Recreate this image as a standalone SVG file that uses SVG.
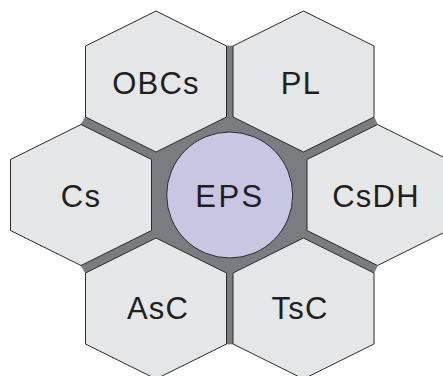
<svg xmlns="http://www.w3.org/2000/svg" width="443" height="376" viewBox="0 0 443 376">
  <style>
    .hex { fill: #e5e6e7; stroke: #2b2b2b; stroke-width: 1; }
    .lbl { font-family: "Liberation Sans", Arial, sans-serif; font-size: 31px; fill: #1f1f1f; text-anchor: middle; letter-spacing: 1.2px; }
    .core { fill: #7b7c80; stroke: #6a6b6e; stroke-width: 0.6; }
  </style>
  <defs>
    <polygon id="hexShape" points="0,-70.5 70.5,-35.5 70.5,35.5 0,70.5 -70.5,35.5 -70.5,-35.5"/>
  </defs>
  <rect width="443" height="376" fill="#ffffff"/>
  <g id="connectors">
    <polygon class="core" points="226.5,46 233,46 374,117 377.5,124.5 377.5,265.5 374,273 233,344 226.5,344 85.5,273 81,265.5 81,124.5 85.5,117"/>
  </g>
  <g id="node-OBCs">
    <use href="#hexShape" class="hex" transform="translate(156,81.5)"/>
    <text class="lbl" x="156" y="94">OBCs</text>
  </g>
  <g id="node-PL">
    <use href="#hexShape" class="hex" transform="translate(303.5,81.5)"/>
    <text class="lbl" x="301" y="94">PL</text>
  </g>
  <g id="node-Cs">
    <use href="#hexShape" class="hex" transform="translate(81,195)"/>
    <text class="lbl" x="81" y="207">Cs</text>
  </g>
  <g id="node-CsDH">
    <use href="#hexShape" class="hex" transform="translate(377.5,195)"/>
    <text class="lbl" x="376" y="207">CsDH</text>
  </g>
  <g id="node-AsC">
    <use href="#hexShape" class="hex" transform="translate(156,308.5)"/>
    <text class="lbl" x="158" y="319">AsC</text>
  </g>
  <g id="node-TsC">
    <use href="#hexShape" class="hex" transform="translate(303.5,308.5)"/>
    <text class="lbl" x="300" y="319">TsC</text>
  </g>
  <g id="node-EPS">
    <circle cx="229.7" cy="195" r="63" fill="#c8c6e3" stroke="#2b2b2b" stroke-width="1"/>
    <text class="lbl" x="230" y="207" style="letter-spacing:2.5px">EPS</text>
  </g>
</svg>
